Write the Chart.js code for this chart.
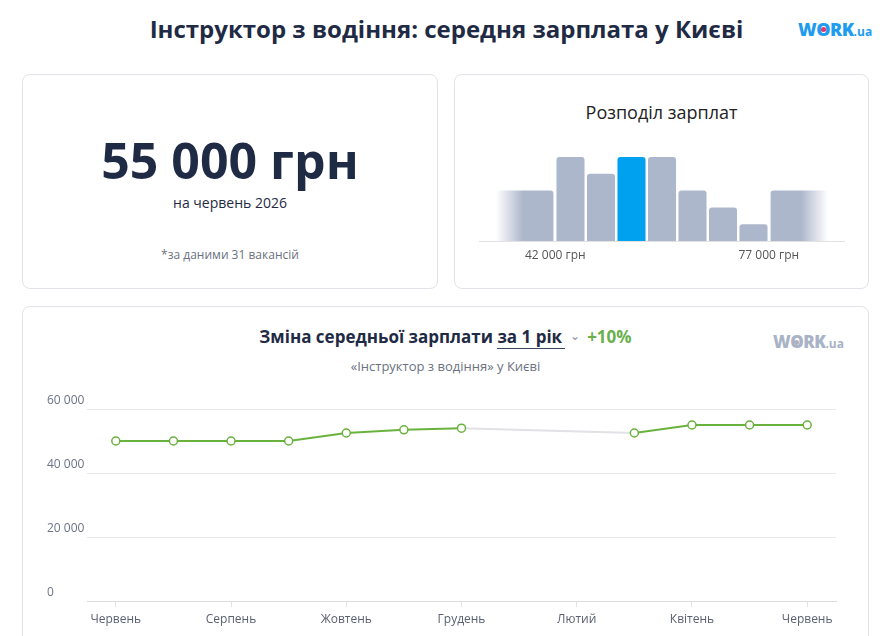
<!DOCTYPE html>
<html lang="uk">
<head>
<meta charset="utf-8">
<title>Інструктор з водіння: середня зарплата у Києві</title>
<script src="https://cdn.jsdelivr.net/npm/chart.js@4.4.1/dist/chart.umd.min.js"></script>
<style>
  body { margin: 0; width: 882px; height: 636px; overflow: hidden; background: #fff;
         font-family: 'Open Sans', sans-serif; color: #1f2a44; position: relative; }
  .abs { position: absolute; }
  .title { left: 0; width: 893px; top: 12px; text-align: center; font-size: 24px; font-weight: 700; line-height: 34px; }
  .logo { font-weight: 800; font-size: 18px; line-height: 24px; color: #1e9cf0; letter-spacing: -0.5px; }
  .logo .o { position: relative; display: inline-block; }
  .logo .o::after { content: ''; position: absolute; left: 50%; top: 50%; width: 5px; height: 5px;
                    margin: -2px 0 0 -2.5px; border-radius: 50%; background: #e8336b; }
  .logo .ua { font-size: 12px; font-weight: 700; letter-spacing: 0; }
  .logo.grey { color: #a9b3c6; font-size: 17px; }
  .logo.grey .o::after { background: #a9b3c6; }
  .logo.grey .ua { font-size: 12px; }
  .card { border: 1px solid #e1e3e8; border-radius: 8px; box-sizing: border-box; }
  .big { left: 22px; width: 416px; top: 135px; text-align: center; font-size: 50px; font-weight: 700; line-height: 50px; }
  .sub { left: 22px; width: 416px; top: 193px; text-align: center; font-size: 14px; line-height: 20px; }
  .note { left: 22px; width: 416px; top: 247px; text-align: center; font-size: 12px; line-height: 16px; color: #6b7280; }
  .htitle { left: 454px; width: 415px; top: 100px; text-align: center; font-size: 18px; line-height: 24px; color: #222; }
  .ltitle { left: 22px; width: 847px; top: 325px; text-align: center; font-size: 17px; font-weight: 700; line-height: 24px; }
  .ltitle .per { border-bottom: 1.5px solid #3a4560; padding-right: 3px; }
  .ltitle .chev { color: #8a92a3; font-size: 12px; font-weight: 400; margin: 0 7px 0 5px; position: relative; top: -3px; }
  .ltitle .pct { color: #6ab04c; }
  .lsub { left: 22px; width: 847px; top: 357px; text-align: center; font-size: 13px; line-height: 18px; color: #6b7280; }
</style>
</head>
<body>
<div class="abs title">Інструктор з водіння: середня зарплата у Києві</div>
<div class="abs logo" style="left:798px; top:17px;">W<span class="o">O</span>RK<span class="ua">.ua</span></div>

<div class="abs card" style="left:22px; top:74px; width:416px; height:215px;"></div>
<div class="abs card" style="left:454px; top:74px; width:415px; height:215px;"></div>
<div class="abs card" style="left:22px; top:306px; width:847px; height:360px;"></div>

<div class="abs big">55 000 грн</div>
<div class="abs sub">на червень 2026</div>
<div class="abs note">*за даними 31 вакансій</div>

<div class="abs htitle">Розподіл зарплат</div>
<div class="abs" style="left:479px; top:150px; width:366px; height:120px;"><canvas id="histChart"></canvas></div>

<div class="abs ltitle">Зміна середньої зарплати <span class="per">за 1 рік</span><span class="chev">&#8964;</span><span class="pct">+10%</span></div>
<div class="abs logo grey" style="left:773px; top:330px;">W<span class="o">O</span>RK<span class="ua">.ua</span></div>
<div class="abs lsub">«Інструктор з водіння» у Києві</div>
<div class="abs" style="left:47px; top:390px; width:806px; height:246px;"><canvas id="lineChart"></canvas></div>

<script>
// salary distribution
const histEdges = [42000, 47000, 52000, 57000, 62000, 67000, 72000, 77000];
const histCounts = [5, 4, 5, 5, 3, 2, 1];
const histTails = [3, 3];            // below 42 000, above 77 000
const histTicks = [42000, 77000];
const currentSalary = 55000;

// average salary by month, Jun 2025 - Jun 2026 (null = no data)
const months = ['Червень', 'Липень', 'Серпень', 'Вересень', 'Жовтень', 'Листопад', 'Грудень',
                'Січень', 'Лютий', 'Березень', 'Квітень', 'Травень', 'Червень'];
const avgSalary = [50000, 50000, 50000, 50000, 52500, 53500, 54000, null, null, 52500, 55000, 55000, 55000];
const yTicks = [0, 20000, 40000, 60000];

const fmt = n => String(n).replace(/\B(?=(\d{3})+(?!\d))/g, ' ');
const GREY = '#adb7cb';
const BLUE = '#00a1ef';
const GREEN = '#6ab23e';

document.addEventListener('DOMContentLoaded', function() {
    Chart.defaults.font.family = "'Open Sans', sans-serif";
    Chart.defaults.animation = false;

    // 1. Histogram
    const binW = histEdges[1] - histEdges[0];
    const bins = histCounts.map((c, i) => ({ x: (histEdges[i] + histEdges[i + 1]) / 2, y: c, lo: histEdges[i], hi: histEdges[i + 1] }));
    const tails = [
        { x: histEdges[0] - binW, y: histTails[0] },
        { x: histEdges[histEdges.length - 1] + binW, y: histTails[1] }
    ];

    new Chart(document.getElementById('histChart'), {
        type: 'bar',
        data: {
            datasets: [{
                data: bins,
                backgroundColor: ctx => (ctx.raw && currentSalary >= ctx.raw.lo && currentSalary < ctx.raw.hi) ? BLUE : GREY,
                barPercentage: 0.92,
                categoryPercentage: 1,
                borderRadius: 3,
                grouped: false
            }, {
                data: tails,
                backgroundColor: (ctx) => {
                    const chart = ctx.chart;
                    if (!chart.chartArea || !ctx.raw) return GREY;
                    const xs = chart.scales.x;
                    const cx = xs.getPixelForValue(ctx.raw.x);
                    const half = (xs.getPixelForValue(binW) - xs.getPixelForValue(0)) * 0.94;
                    const left = ctx.dataIndex === 0;
                    const g = chart.ctx.createLinearGradient(left ? cx - half : cx + half, 0, left ? cx + half : cx - half, 0);
                    g.addColorStop(0, 'rgba(173, 183, 203, 0)');
                    g.addColorStop(0.47, GREY);
                    g.addColorStop(1, GREY);
                    return g;
                },
                barPercentage: 1.88,
                categoryPercentage: 1,
                borderRadius: 3,
                grouped: false
            }]
        },
        options: {
            responsive: true,
            maintainAspectRatio: false,
            layout: { padding: { top: 7 } },
            scales: {
                x: {
                    type: 'linear',
                    offset: false,
                    min: histEdges[0] - 2.5 * binW,
                    max: histEdges[histEdges.length - 1] + 2.5 * binW,
                    afterBuildTicks: s => { s.ticks = histTicks.map(v => ({ value: v })); },
                    afterFit: s => { s.height = 29; },
                    grid: { drawOnChartArea: false, drawTicks: false },
                    border: { color: '#e2e2e2' },
                    ticks: { autoSkip: false, maxRotation: 0, padding: 7, color: '#555', font: { size: 12 },
                             callback: v => fmt(v) + ' грн' }
                },
                y: { display: false, min: 0, max: 5 }
            },
            plugins: { legend: { display: false }, tooltip: { enabled: false } }
        }
    });

    // 2. Line chart: salary change
    new Chart(document.getElementById('lineChart'), {
        type: 'line',
        data: {
            labels: months,
            datasets: [{
                data: avgSalary,
                borderColor: GREEN,
                borderWidth: 2,
                spanGaps: true,
                segment: {
                    // grey connector across months without data
                    borderColor: ctx => avgSalary[ctx.p0DataIndex] === null ? '#e1e1e6' : undefined
                },
                pointRadius: 4,
                pointBorderWidth: 1.5,
                pointBackgroundColor: '#fff',
                pointBorderColor: GREEN,
                tension: 0
            }]
        },
        options: {
            responsive: true,
            maintainAspectRatio: false,
            layout: { padding: { top: 19, right: 17 } },
            scales: {
                x: {
                    offset: true,
                    afterFit: s => { s.height = 35; },
                    grid: { drawOnChartArea: false, tickLength: 6, color: '#e3e3e3' },
                    border: { color: '#dcdcdc' },
                    ticks: { autoSkip: false, maxRotation: 0, padding: 5, color: '#5a6172', font: { size: 12 },
                             callback: (v, i) => i % 2 === 0 ? months[i] : null }
                },
                y: {
                    min: 0,
                    max: 60000,
                    afterBuildTicks: s => { s.ticks = yTicks.map(v => ({ value: v })); },
                    afterFit: s => { s.width = 40; },
                    grid: { color: '#e8e8e8', drawTicks: false },
                    border: { display: false },
                    ticks: { crossAlign: 'far', labelOffset: -8, padding: 2, color: '#6b7385', font: { size: 12 },
                             callback: v => fmt(v) }
                }
            },
            plugins: { legend: { display: false }, tooltip: { enabled: false } }
        }
    });
});
</script>
</body>
</html>
